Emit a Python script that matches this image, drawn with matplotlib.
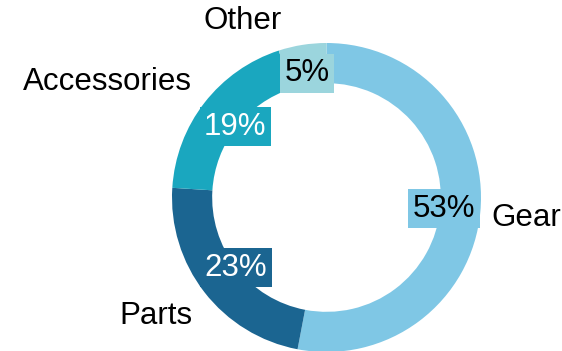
import numpy as np
import matplotlib
matplotlib.use("Agg")
import matplotlib.pyplot as plt

# Sales share by product category
categories = ["Gear", "Parts", "Accessories", "Other"]
shares = [53, 23, 19, 5]
colors = ["#7fc7e5", "#1b6591", "#1aa7bf", "#9bd5dd"]
pct_text_colors = ["black", "white", "white", "black"]

plt.rcParams["font.family"] = ["Liberation Sans", "DejaVu Sans"]

W, H, DPI = 562, 351, 100
fig = plt.figure(figsize=(W / DPI, H / DPI), dpi=DPI)
ax = fig.add_axes([0, 0, 1, 1])

R_PX = 154.5                 # ring outer radius in pixels
CX, CY = 326.5, 351 - 197.5  # ring centre in pixels (from bottom-left)

wedges, _ = ax.pie(
    shares,
    colors=colors,
    startangle=90,
    counterclock=False,
    radius=1.0,
    wedgeprops=dict(width=0.26, linewidth=0),
)

ax.set_xlim(-CX / R_PX, (W - CX) / R_PX)
ax.set_ylim(-CY / R_PX, (H - CY) / R_PX)
ax.set_aspect("equal")
ax.axis("off")

# label layout: radial distance of the percentage boxes and
# small pixel nudges for the outside category names
pct_radius = [0.764, 0.742, 0.748, 0.814]
name_nudge = [(-4, -4.5), (0, -14), (0, 11), (-18, 9)]
fs = 22.5

for w, name, val, tc, pr, (nx, ny), col in zip(
    wedges, categories, shares, pct_text_colors, pct_radius, name_nudge, colors
):
    mid = np.deg2rad((w.theta1 + w.theta2) / 2)
    c, s = np.cos(mid), np.sin(mid)
    ax.text(
        pr * c, pr * s, f"{val}%",
        ha="center", va="center", fontsize=fs, color=tc, zorder=5,
        bbox=dict(boxstyle="square,pad=0.14", fc=col, ec="none"),
    )
    ax.annotate(
        name, xy=(1.1 * c, 1.1 * s), xytext=(nx, ny),
        textcoords="offset pixels",
        ha="left" if c > 0 else "right", va="center",
        fontsize=fs, color="black",
    )

fig.savefig("out.png", dpi=DPI)
